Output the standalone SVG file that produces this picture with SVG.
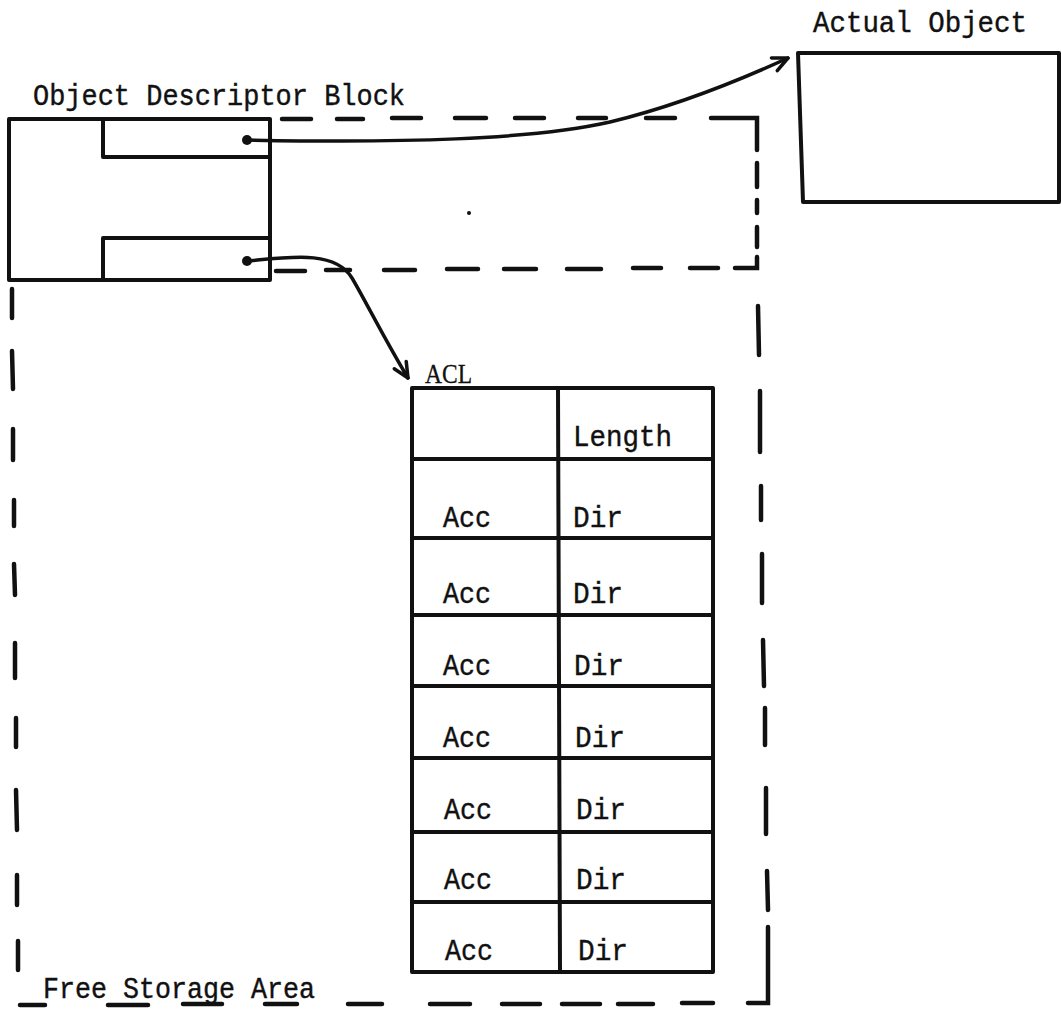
<svg xmlns="http://www.w3.org/2000/svg" width="1061" height="1011" viewBox="0 0 1061 1011">
<defs>
<style>
.ln{fill:none;stroke:#111;stroke-width:4;stroke-linecap:round;stroke-linejoin:round}
.ds{fill:none;stroke:#111;stroke-width:4.5;stroke-linecap:round}
.cn{fill:none;stroke:#111;stroke-width:3.5;stroke-linecap:round}
.tx{font-family:"Liberation Mono","Courier New",monospace;font-size:29px;fill:#111;stroke:#111;stroke-width:0.4}
.tz{font-family:"Liberation Serif","Times New Roman",serif;font-size:27px;fill:#111;stroke:#111;stroke-width:0.3}
</style>
<marker id="arr" markerUnits="userSpaceOnUse" viewBox="-18 -10 20 20" markerWidth="20" markerHeight="20" refX="0" refY="0" orient="auto">
<path d="M-15,-7 L0,0 L-15,7" fill="none" stroke="#111" stroke-width="3.5" stroke-linecap="round" stroke-linejoin="round"/>
</marker>
</defs>
<rect x="0" y="0" width="1061" height="1011" fill="#fff"/>

<g id="free-storage-area">
<path class="ds" d="M282,119 L311,119 M337,119 L363,119 M392,118 L421,118 M455,118 L486,118 M515,118 L544,118 M578,118 L606,118 M646,118 L675,118 M711,118 L757,118 L757,150 M757,163 L757,187 M757,200 L757,213 M757,227 L757,247 M757,257 L757,268 L735,268 M718,268 L690,268 M661,268 L633,268 M601,269 L567,269 M536,269 L504,269 M478,269 L447,269 M415,270 L384,270 M350,270 L326,270 M305,271 L276,271"/>
<path class="ds" d="M12,289 L12,318 M12,351 L13,389 M13,429 L13,460 M14,500 L14,526 M14,564 L15,595 M15,643 L15,678 M16,718 L16,747 M16,790 L17,830 M17,875 L17,905 M18,941 L18,970"/>
<path class="ds" d="M20,1005 L45,1005 M108,1005 L148,1005 M183,1004 L222,1004 M265,1004 L297,1004 M348,1004 L382,1004 M430,1004 L470,1004 M502,1004 L540,1004 M562,1004 L600,1004 M618,1004 L653,1004 M682,1003 L713,1003 M748,1003 L768,1003 L768,927 M768,910 L767,871 M766,834 L766,788 M765,745 L765,708 M764,686 L763,640 M762,603 L762,554 M761,520 L761,486 M760,452 L760,391 M759,355 L758,306"/>
<text class="tx" x="43" y="998" textLength="272" lengthAdjust="spacingAndGlyphs">Free Storage Area</text>
</g>

<g id="object-descriptor-block">
<rect class="ln" x="9" y="119" width="261" height="161"/>
<path class="ln" d="M103,119 L103,157 L270,157 M103,280 L103,238 L270,238"/>
<text class="tx" x="33" y="105" textLength="372" lengthAdjust="spacingAndGlyphs">Object Descriptor Block</text>
</g>

<g id="actual-object">
<path class="ln" d="M798,53 L1059,53 L1059,202 L803,202 Z"/>
<text class="tx" x="813" y="32" textLength="214" lengthAdjust="spacingAndGlyphs">Actual Object</text>
</g>

<g id="acl">
<rect class="ln" x="412" y="388" width="301" height="584"/>
<path class="ln" d="M558,388 L560,972 M412,459 L713,459 M412,538 L713,538 M412,615 L713,615 M412,686 L713,686 M412,758 L713,758 M412,832 L713,832 M412,902 L713,902"/>
<text class="tz" x="425" y="383" textLength="47" lengthAdjust="spacingAndGlyphs">ACL</text>
<text class="tx" x="573" y="446" textLength="99" lengthAdjust="spacingAndGlyphs">Length</text>
<g class="tx">
<text x="443" y="527" textLength="48" lengthAdjust="spacingAndGlyphs">Acc</text>
<text x="573" y="527" textLength="50" lengthAdjust="spacingAndGlyphs">Dir</text>
<text x="443" y="603" textLength="48" lengthAdjust="spacingAndGlyphs">Acc</text>
<text x="573" y="603" textLength="50" lengthAdjust="spacingAndGlyphs">Dir</text>
<text x="443" y="675" textLength="48" lengthAdjust="spacingAndGlyphs">Acc</text>
<text x="574" y="675" textLength="50" lengthAdjust="spacingAndGlyphs">Dir</text>
<text x="443" y="747" textLength="48" lengthAdjust="spacingAndGlyphs">Acc</text>
<text x="575" y="747" textLength="50" lengthAdjust="spacingAndGlyphs">Dir</text>
<text x="444" y="819" textLength="48" lengthAdjust="spacingAndGlyphs">Acc</text>
<text x="576" y="819" textLength="50" lengthAdjust="spacingAndGlyphs">Dir</text>
<text x="444" y="889" textLength="48" lengthAdjust="spacingAndGlyphs">Acc</text>
<text x="576" y="889" textLength="50" lengthAdjust="spacingAndGlyphs">Dir</text>
<text x="445" y="960" textLength="48" lengthAdjust="spacingAndGlyphs">Acc</text>
<text x="578" y="960" textLength="50" lengthAdjust="spacingAndGlyphs">Dir</text>
</g>
</g>

<g id="connectors">
<circle cx="247" cy="140" r="5" fill="#111"/>
<circle cx="247" cy="261" r="5" fill="#111"/>
<path class="cn" d="M247,140 C400,143 530,140 610,122 C680,105 740,80 788,58" marker-end="url(#arr)"/>
<path class="cn" d="M247,261 C290,257 335,250 352,278 C365,300 385,340 408,378" marker-end="url(#arr)"/>
</g>
<circle cx="469" cy="213" r="2" fill="#111"/>
</svg>
